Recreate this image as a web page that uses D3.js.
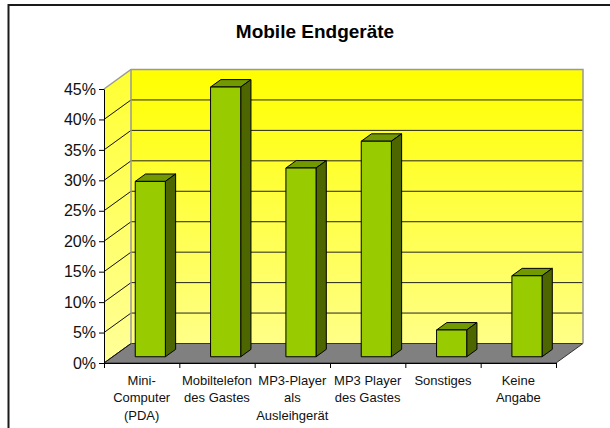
<!DOCTYPE html>
<html>
<head>
    <meta charset="utf-8">
    <style>
        body { margin: 0; background: #fff; }
        svg { display: block; font-family: "Liberation Sans", Arial, sans-serif; }
        .title { font-size: 19px; font-weight: bold; fill: #000; }
        .y .tick text { font-size: 16px; fill: #111; }
        .y .tick line, .x .tick line { stroke: #000; }
        .y .domain, .x .domain { stroke: #000; }
        .xlab { font-size: 13px; fill: #111; }
    </style>
</head>
<body>
<svg width="610" height="428"></svg>
<script src="https://d3js.org/d3.v7.min.js"></script>
<script>
    // data
    let categories = [
        ["Mini-", "Computer", "(PDA)"],
        ["Mobiltelefon", "des Gastes"],
        ["MP3-Player", "als", "Ausleihgerät"],
        ["MP3 Player", "des Gastes"],
        ["Sonstiges"],
        ["Keine", "Angabe"]
    ];
    let values = [0.288, 0.443, 0.31, 0.354, 0.044, 0.133];
    let yTicks = [0, 0.05, 0.10, 0.15, 0.20, 0.25, 0.30, 0.35, 0.40, 0.45];

    let svg = d3.select("svg");

    // 3d box: front plane + depth offset to back wall
    let plotLeft = 104, plotRight = 556, plotBottom = 363, plotTop = 89;
    let depth = { dx: 27, dy: -19.5 };
    let barT0 = 0.32, barT1 = 0.70;

    let keys = categories.map((c, i) => i);

    let x = d3.scaleBand()
        .domain(keys)
        .range([plotLeft, plotRight])
        .paddingInner(0.6)
        .paddingOuter(0.3);

    let xEdge = d3.scaleLinear()
        .domain([0, keys.length])
        .range([plotLeft, plotRight]);

    let y = d3.scaleLinear()
        .domain([0, 0.45])
        .range([plotBottom, plotTop]);

    function pt(px, py, t) {
        return [px + t * depth.dx, py + t * depth.dy];
    }

    let defs = svg.append("defs");
    let grad = defs.append("linearGradient")
        .attr("id", "wall")
        .attr("x1", 0).attr("y1", 0).attr("x2", 0).attr("y2", 1);
    grad.append("stop").attr("offset", "0%").attr("stop-color", "#ffff00");
    grad.append("stop").attr("offset", "100%").attr("stop-color", "#ffff88");

    let gradSide = defs.append("linearGradient")
        .attr("id", "side")
        .attr("x1", 0).attr("y1", 0).attr("x2", 0).attr("y2", 1);
    gradSide.append("stop").attr("offset", "0%").attr("stop-color", "#ffff33");
    gradSide.append("stop").attr("offset", "100%").attr("stop-color", "#ffff99");

    // outer frame
    svg.append("rect")
        .attr("x", 8.5).attr("y", 5)
        .attr("width", 640).attr("height", 500)
        .attr("fill", "none")
        .attr("stroke", "#1a1a1a")
        .attr("stroke-width", 2);

    // title
    svg.append("text")
        .attr("class", "title")
        .attr("x", 315)
        .attr("y", 38)
        .attr("text-anchor", "middle")
        .text("Mobile Endgeräte");

    let line = d3.line();

    // back wall
    let bw = [pt(plotLeft, y(0.45), 1), pt(plotRight, y(0.45), 1), pt(plotRight, y(0), 1), pt(plotLeft, y(0), 1)];
    svg.append("path")
        .attr("d", line(bw) + "Z")
        .attr("fill", "url(#wall)");

    // side wall
    let sw = [pt(plotLeft, y(0.45), 0), pt(plotLeft, y(0.45), 1), pt(plotLeft, y(0), 1), pt(plotLeft, y(0), 0)];
    svg.append("path")
        .attr("d", line(sw) + "Z")
        .attr("fill", "url(#side)");

    // floor
    let fl = [pt(plotLeft, y(0), 0), pt(plotLeft, y(0), 1), pt(plotRight, y(0), 1), pt(plotRight, y(0), 0)];
    svg.append("path")
        .attr("d", line(fl) + "Z")
        .attr("fill", "#808080")
        .attr("stroke", "#333")
        .attr("stroke-width", 1);

    // gridlines on back wall and side wall
    let grid = svg.append("g");
    grid.selectAll(".bgrid")
        .data(yTicks.filter(v => v > 0 && v < 0.45))
        .join("path")
        .attr("class", "bgrid")
        .attr("d", v => line([pt(plotLeft, y(v), 1), pt(plotRight, y(v), 1)]))
        .attr("stroke", "#222")
        .attr("stroke-width", 1)
        .attr("fill", "none");

    grid.selectAll(".sgrid")
        .data(yTicks.filter(v => v < 0.45))
        .join("path")
        .attr("class", "sgrid")
        .attr("d", v => line([pt(plotLeft, y(v), 0), pt(plotLeft, y(v), 1)]))
        .attr("stroke", "#111")
        .attr("stroke-width", 1)
        .attr("fill", "none");

    // wall borders (grey)
    svg.append("path")
        .attr("d", line([pt(plotLeft, y(0.45), 0), pt(plotLeft, y(0.45), 1), pt(plotRight, y(0.45), 1), pt(plotRight, y(0), 1)]))
        .attr("stroke", "#999")
        .attr("stroke-width", 1.5)
        .attr("fill", "none");
    svg.append("path")
        .attr("d", line([pt(plotLeft, y(0.45), 1), pt(plotLeft, y(0), 1)]))
        .attr("stroke", "#999")
        .attr("stroke-width", 1.5)
        .attr("fill", "none");

    // bars
    let bars = svg.append("g")
        .selectAll("g")
        .data(values)
        .join("g");

    bars.append("path")
        .attr("fill", "#739900")
        .attr("stroke", "#000")
        .attr("stroke-linejoin", "round")
        .attr("d", (d, i) => {
            let x0 = x(i), x1 = x(i) + x.bandwidth();
            return line([pt(x0, y(d), barT0), pt(x1, y(d), barT0), pt(x1, y(d), barT1), pt(x0, y(d), barT1)]) + "Z";
        });

    bars.append("path")
        .attr("fill", "#4d6600")
        .attr("stroke", "#000")
        .attr("stroke-linejoin", "round")
        .attr("d", (d, i) => {
            let x1 = x(i) + x.bandwidth();
            return line([pt(x1, y(d), barT0), pt(x1, y(d), barT1), pt(x1, y(0), barT1), pt(x1, y(0), barT0)]) + "Z";
        });

    bars.append("path")
        .attr("fill", "#99cc00")
        .attr("stroke", "#000")
        .attr("stroke-linejoin", "round")
        .attr("d", (d, i) => {
            let x0 = x(i), x1 = x(i) + x.bandwidth();
            return line([pt(x0, y(d), barT0), pt(x1, y(d), barT0), pt(x1, y(0), barT0), pt(x0, y(0), barT0)]) + "Z";
        });

    // axes
    svg.append("g")
        .attr("class", "y axis")
        .attr("transform", `translate(${plotLeft},0)`)
        .call(d3.axisLeft(y)
            .tickValues(yTicks)
            .tickSize(5)
            .tickSizeOuter(0)
            .tickPadding(3)
            .tickFormat(d3.format(".0%")));

    svg.append("g")
        .attr("class", "x axis")
        .attr("transform", `translate(0,${plotBottom})`)
        .call(d3.axisBottom(xEdge)
            .tickValues(d3.range(keys.length + 1))
            .tickSize(5)
            .tickSizeOuter(0)
            .tickFormat(""));

    // category labels
    let labs = svg.append("g")
        .selectAll("text")
        .data(categories)
        .join("text")
        .attr("class", "xlab")
        .attr("text-anchor", "middle")
        .attr("x", (d, i) => xEdge(i + 0.5))
        .attr("y", 384.5);

    labs.selectAll("tspan")
        .data(d => d)
        .join("tspan")
        .attr("x", function () { return this.parentNode.getAttribute("x"); })
        .attr("dy", (d, j) => j === 0 ? 0 : 17.5)
        .text(d => d);
</script>
</body>
</html>
